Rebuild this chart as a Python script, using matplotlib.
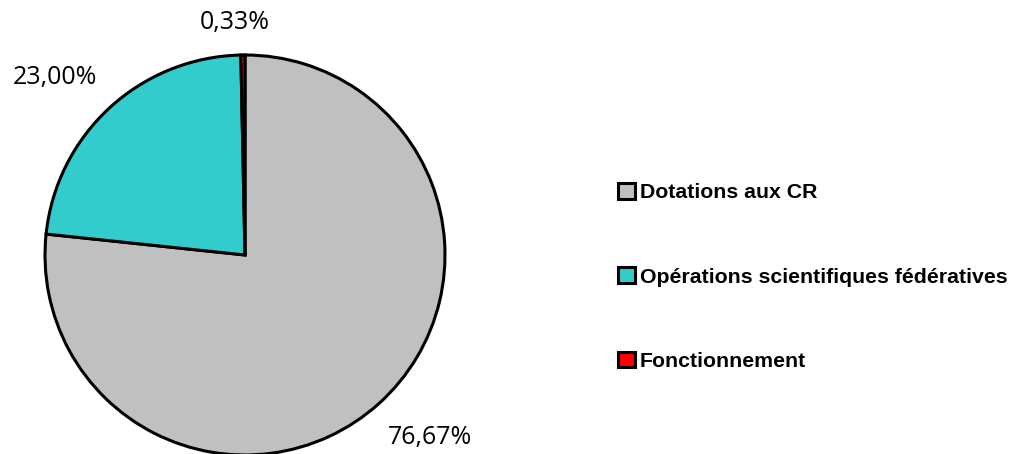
import numpy as np
import matplotlib.pyplot as plt

categories = ['Dotations aux CR', 'Opérations scientifiques fédératives', 'Fonctionnement']
values = [76.67, 23.00, 0.33]
pct_labels = ['76,67%', '23,00%', '0,33%']
colors = ['#C0C0C0', '#33CCCC', '#FF0000']
# label placement: radial distance (in radii) and angular shift (deg)
label_dist = [1.30, 1.30, 1.165]
label_shift = [3.5, 4.5, 2.0]

W, H = 1019, 454
fig = plt.figure(figsize=(W / 100, H / 100), dpi=100)
ax = fig.add_axes([0, 0, 1, 1])

cx, cy, r = 245, H - 255, 200
wedges, _ = ax.pie(values, colors=colors, startangle=90, counterclock=False,
                   center=(cx, cy), radius=r, frame=True,
                   wedgeprops=dict(edgecolor='black', linewidth=2.2))
ax.set_xlim(0, W)
ax.set_ylim(0, H)
ax.set_aspect('equal')
ax.axis('off')

for w, lab, d, s in zip(wedges, pct_labels, label_dist, label_shift):
    mid = np.deg2rad((w.theta1 + w.theta2) / 2 + s)
    ax.text(cx + d * r * np.cos(mid), cy + d * r * np.sin(mid), lab,
            ha='center', va='center', fontsize=18, family='Open Sans')

leg = ax.legend(wedges, categories, loc='center left',
                bbox_to_anchor=(618 / W, 1 - 277 / H), bbox_transform=fig.transFigure,
                frameon=False, prop=dict(family='Liberation Sans', weight='bold', size=15.3),
                handlelength=0.78, handleheight=0.78, handletextpad=0.25,
                labelspacing=3.05, borderpad=0, borderaxespad=0)
for h in leg.legend_handles:
    h.set_linewidth(2.2)

plt.savefig('out.png', dpi=100)
